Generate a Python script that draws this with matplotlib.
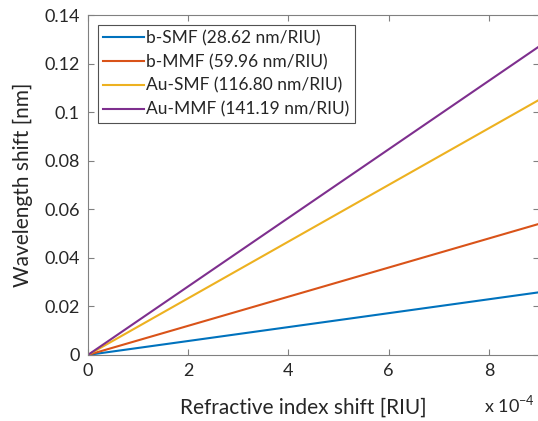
import numpy as np
import matplotlib
matplotlib.use("Agg")
import matplotlib.pyplot as plt
from matplotlib.ticker import FuncFormatter, MultipleLocator

plt.rcParams["font.family"] = ["Lato", "DejaVu Sans"]
plt.rcParams["mathtext.fontset"] = "custom"
plt.rcParams["mathtext.rm"] = "Lato"

# RI shift (RIU) and wavelength shift (nm) at line ends
ri_shift = [0.0, 9e-4]
labels = ["b-SMF (28.62 nm/RIU)", "b-MMF (59.96 nm/RIU)",
          "Au-SMF (116.80 nm/RIU)", "Au-MMF (141.19 nm/RIU)"]
shift_bsmf = [0.0, 0.0258]
shift_bmmf = [0.0, 0.0540]
shift_ausmf = [0.0, 0.1051]
shift_aummf = [0.0, 0.1271]
colors = ["#0072BD", "#D95319", "#EDB120", "#7E2F8E"]

fig = plt.figure(figsize=(5.38, 4.21), dpi=100)
ax = fig.add_axes([0.1636, 0.157, 0.8384, 0.807])

for y, lab, c in zip([shift_bsmf, shift_bmmf, shift_ausmf, shift_aummf], labels, colors):
    ax.plot(ri_shift, y, color=c, lw=1.5, label=lab)

ax.set_xlim(0, 9e-4)
ax.set_ylim(0, 0.14)
ax.xaxis.set_major_locator(MultipleLocator(2e-4))
ax.yaxis.set_major_locator(MultipleLocator(0.02))
ax.xaxis.set_major_formatter(FuncFormatter(lambda v, p: "%g" % round(v / 1e-4, 6)))
ax.yaxis.set_major_formatter(FuncFormatter(lambda v, p: "%g" % round(v, 6)))

grey = "#262626"
for s in ax.spines.values():
    s.set_color("#808080")
    s.set_linewidth(0.8)
ax.tick_params(direction="in", length=4, width=0.8, color="#808080",
               labelsize=13, labelcolor=grey, top=True, right=True, pad=6)

ax.set_xlabel("Refractive index shift [RIU]", fontsize=15, color=grey)
ax.xaxis.set_label_coords(0.478, -0.125)
ax.set_ylabel("Wavelength shift [nm]", fontsize=15, color=grey, labelpad=8)

fig.text(0.899, 0.021, r"x 10$^{\mathregular{-4}}$", fontsize=13, color=grey,
         ha="left", va="baseline")

leg = ax.legend(loc="upper left", fontsize=12.5, frameon=True, fancybox=False,
                borderaxespad=0.55, handlelength=2.35, handletextpad=0.15,
                borderpad=0.3, labelspacing=0.45)
leg.get_frame().set_edgecolor(grey)
leg.get_frame().set_linewidth(0.8)
for t in leg.get_texts():
    t.set_color(grey)

fig.savefig("out.png", dpi=100)
